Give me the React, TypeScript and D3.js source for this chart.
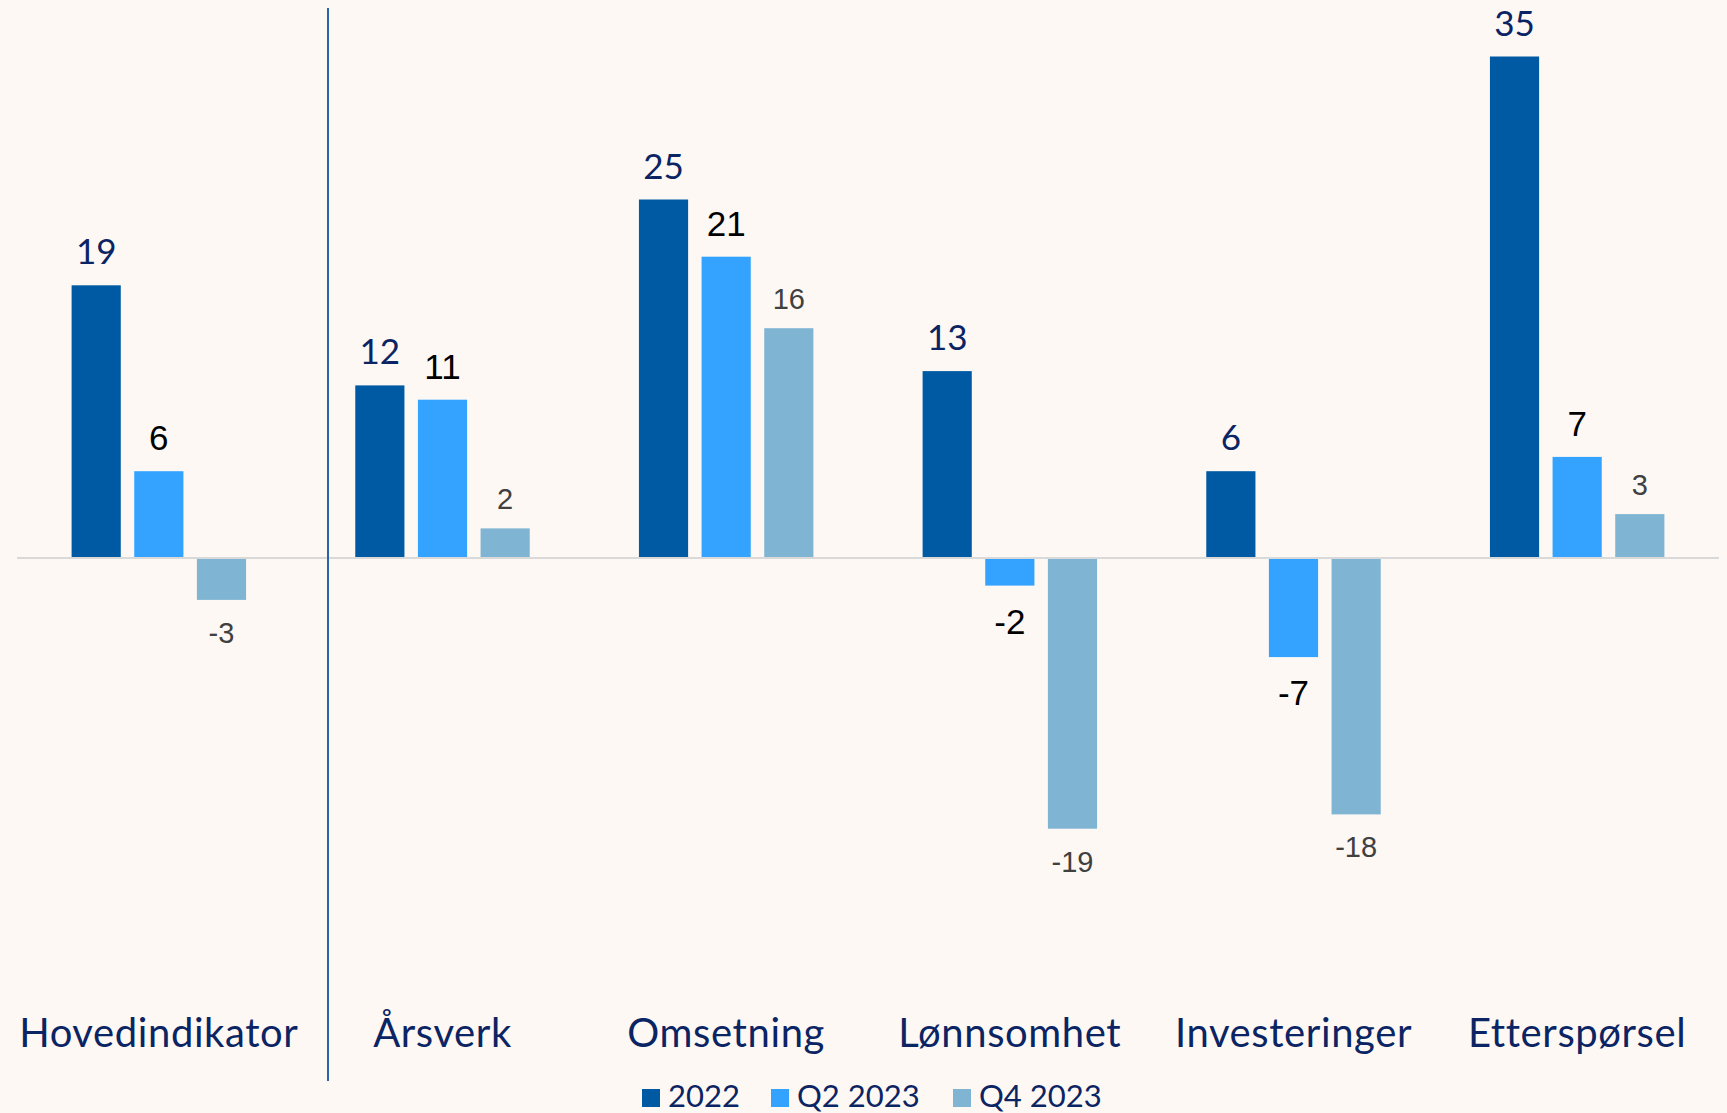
import React from "react";
import * as d3 from "d3";

const categories = ["Hovedindikator", "Årsverk", "Omsetning", "Lønnsomhet", "Investeringer", "Etterspørsel"];
const seriesNames = ["2022", "Q2 2023", "Q4 2023"];
const values2022 = [19, 12, 25, 13, 6, 35];
const valuesQ2 = [6, 11, 21, -2, -7, 7];
const valuesQ4 = [-3, 2, 16, -19, -18, 3];

const seriesValues = [values2022, valuesQ2, valuesQ4];
const colors = ["#005aa3", "#33a3ff", "#80b4d3"];
const labelColors = ["#0b2463", "#000000", "#404040"];
const labelSizes = [35, 35, 29];
const labelFonts = ["Lato, 'Open Sans', sans-serif", "'Liberation Sans', Arial, sans-serif", "'Liberation Sans', Arial, sans-serif"];

const W = 1727;
const H = 1113;
const navy = "#0b2463";

export default function App() {
  const x0 = d3.scaleBand<string>().domain(categories).range([17, 1719]).paddingInner(0).paddingOuter(0);
  const bw = x0.bandwidth();
  const x1 = d3.scaleBand<string>().domain(seriesNames).range([54.6, bw - 54.6]).paddingInner(0.215).paddingOuter(0);
  const unit = 14.3;
  const zeroY = 557;
  const y = d3.scaleLinear().domain([-20, 35]).range([zeroY + 20 * unit, zeroY - 35 * unit]);

  const legendItems = [
    { sq: 642, tx: 668 },
    { sq: 771, tx: 797 },
    { sq: 953, tx: 979 },
  ];

  return (
    <svg width={W} height={H} style={{ position: "absolute", left: 0, top: 0, display: "block" }}>
      <rect x={0} y={0} width={W} height={H} fill="#fdf8f4" />
      {seriesValues.map((vals, si) =>
        vals.map((v, ci) => {
          const x = (x0(categories[ci]) ?? 0) + (x1(seriesNames[si]) ?? 0);
          const top = y(Math.max(0, v));
          const h = Math.abs(y(v) - y(0));
          return <rect key={`b${si}-${ci}`} x={x} y={top} width={x1.bandwidth()} height={h} fill={colors[si]} />;
        })
      )}
      <line x1={17} x2={1719} y1={y(0) + 1} y2={y(0) + 1} stroke="#d9d9d9" strokeWidth={2} />
      <line x1={328} x2={328} y1={8} y2={1081} stroke="#2a64a8" strokeWidth={2} />
      {seriesValues.map((vals, si) =>
        vals.map((v, ci) => {
          const cx = (x0(categories[ci]) ?? 0) + (x1(seriesNames[si]) ?? 0) + x1.bandwidth() / 2;
          const big = si < 2;
          const ty = v >= 0 ? y(v) - (big ? 21 : 19) : y(v) + (big ? 48 : 43);
          return (
            <text
              key={`l${si}-${ci}`}
              x={cx}
              y={ty}
              textAnchor="middle"
              fontFamily={labelFonts[si]}
              fontSize={labelSizes[si]}
              fill={labelColors[si]}
            >
              {v}
            </text>
          );
        })
      )}
      {categories.map((c) => (
        <text
          key={c}
          x={(x0(c) ?? 0) + bw / 2}
          y={1047}
          textAnchor="middle"
          fontFamily="Lato, 'Open Sans', sans-serif"
          fontSize={40}
          letterSpacing={0.6}
          fill={navy}
        >
          {c}
        </text>
      ))}
      {seriesNames.map((s, i) => (
        <g key={s}>
          <rect x={legendItems[i].sq} y={1089} width={18} height={18} fill={colors[i]} />
          <text x={legendItems[i].tx} y={1107} fontFamily="Lato, 'Open Sans', sans-serif" fontSize={31} fill={navy}>
            {s}
          </text>
        </g>
      ))}
    </svg>
  );
}
